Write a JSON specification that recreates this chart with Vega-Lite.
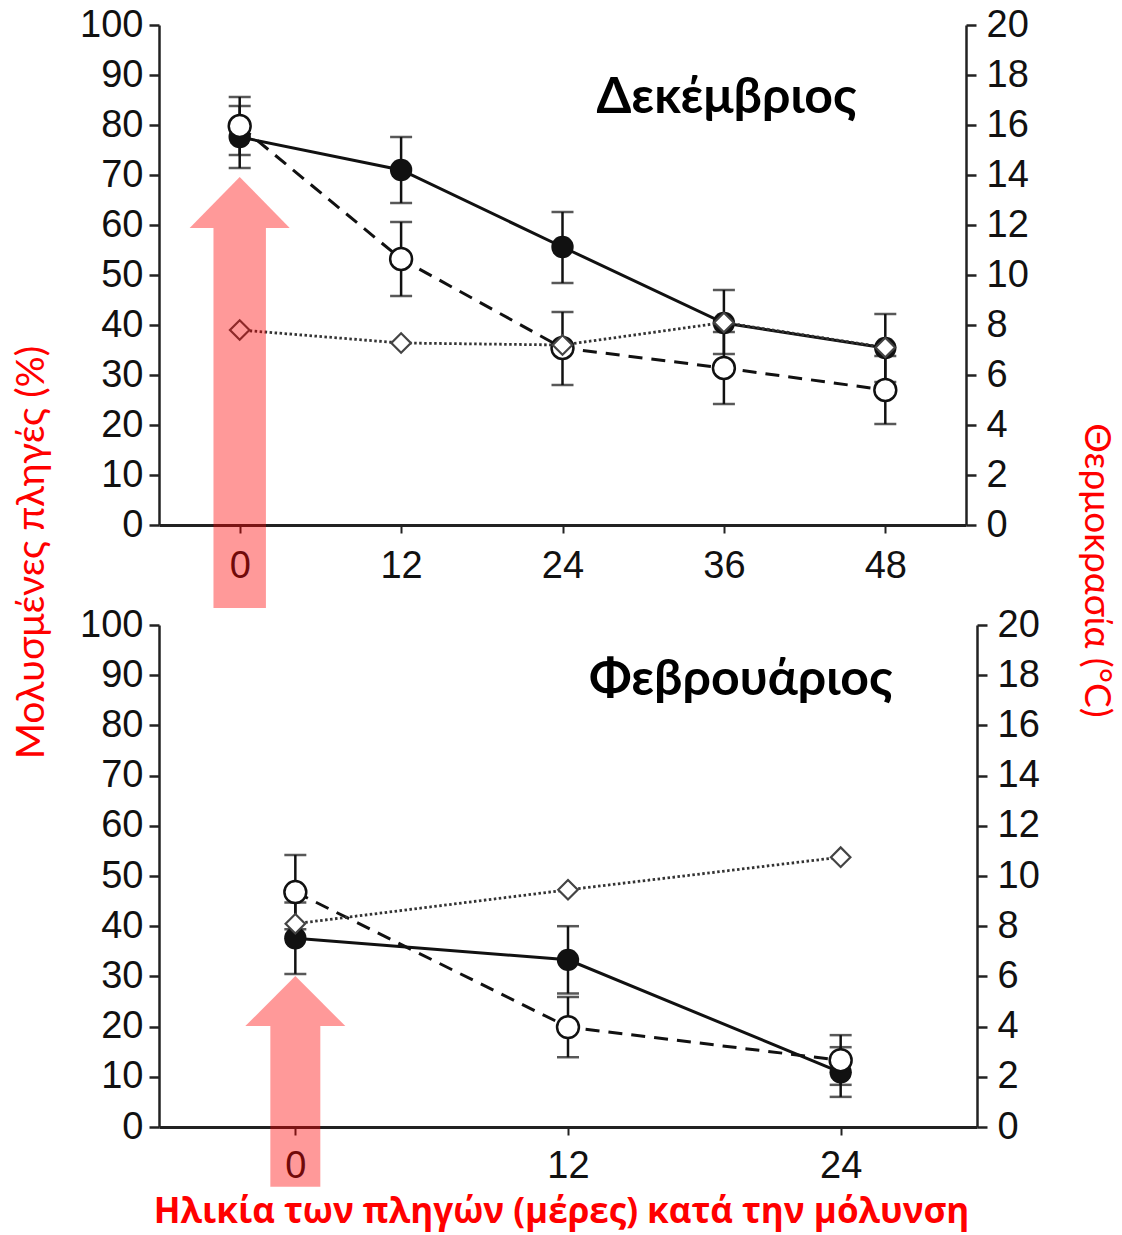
{
  "$schema": "https://vega.github.io/schema/vega-lite/v6.json",
  "background": "white",
  "padding": {"left": 12, "top": 6, "right": 8, "bottom": 10},
  "bounds": "flush",
  "spacing": 100,
  "config": {
    "view": {"stroke": null},
    "axis": {"grid": false, "labelFont": "Liberation Sans", "labelFontSize": 38, "labelColor": "#111", "domainColor": "#222", "tickColor": "#222", "labelOverlap": false, "labelFlush": false}
  },
  "datasets": {
    "dec": [
      {"day": 0, "series": "filled", "mean": 77.6, "lo": 71.4, "hi": 83.8},
      {"day": 12, "series": "filled", "mean": 71, "lo": 64.4, "hi": 77.6},
      {"day": 24, "series": "filled", "mean": 55.6, "lo": 48.4, "hi": 62.6},
      {"day": 36, "series": "filled", "mean": 40.4, "lo": 34.2, "hi": 47},
      {"day": 48, "series": "filled", "mean": 35.4, "lo": 28.6, "hi": 42.2},
      {"day": 0, "series": "open", "mean": 79.8, "lo": 74, "hi": 85.6},
      {"day": 12, "series": "open", "mean": 53.2, "lo": 45.8, "hi": 60.6},
      {"day": 24, "series": "open", "mean": 35.4, "lo": 28, "hi": 42.6},
      {"day": 36, "series": "open", "mean": 31.4, "lo": 24.2, "hi": 38.6},
      {"day": 48, "series": "open", "mean": 27, "lo": 20.2, "hi": 33.8}
    ],
    "decTemp": [
      {"day": 0, "temp": 7.8},
      {"day": 12, "temp": 7.28},
      {"day": 24, "temp": 7.2},
      {"day": 36, "temp": 8.1},
      {"day": 48, "temp": 7.1}
    ],
    "feb": [
      {"day": 0, "series": "filled", "mean": 37.6, "lo": 30.5, "hi": 44.7},
      {"day": 12, "series": "filled", "mean": 33.3, "lo": 26.6, "hi": 40},
      {"day": 24, "series": "filled", "mean": 10.9, "lo": 6, "hi": 15.9},
      {"day": 0, "series": "open", "mean": 46.8, "lo": 39.4, "hi": 54.2},
      {"day": 12, "series": "open", "mean": 19.9, "lo": 13.9, "hi": 25.9},
      {"day": 24, "series": "open", "mean": 13.3, "lo": 8.4, "hi": 18.3}
    ],
    "febTemp": [
      {"day": 0, "temp": 8.1},
      {"day": 12, "temp": 9.45},
      {"day": 24, "temp": 10.75}
    ],
    "decShaft": [{"x1": -1.95, "x2": 1.95, "y1": -16.6, "y2": 59.4}],
    "decHead": [
      {"x": -3.72, "y": 59.4, "base": 59.4},
      {"x": 0, "y": 69.6, "base": 59.4},
      {"x": 3.72, "y": 59.4, "base": 59.4}
    ],
    "febShaft": [{"x1": -1.1, "x2": 1.1, "y1": -11.9, "y2": 20.1}],
    "febHead": [
      {"x": -2.2, "y": 20.1, "base": 20.1},
      {"x": 0, "y": 30.1, "base": 20.1},
      {"x": 2.2, "y": 20.1, "base": 20.1}
    ],
    "decLabel": [{"day": 36.2, "v": 85.4, "label": "Δεκέμβριος"}],
    "febLabel": [{"day": 19.6, "v": 89, "label": "Φεβρουάριος"}]
  },
  "vconcat": [
    {
      "width": 807,
      "height": 500,
      "resolve": {"scale": {"y": "independent"}},
      "layer": [
        {
          "data": {"name": "dec"},
          "layer": [
            {
              "mark": {"type": "rule", "color": "#111", "strokeWidth": 2.5},
              "encoding": {
                "x": {"field": "day", "type": "quantitative", "scale": {"domain": [-6, 54], "nice": false, "zero": false},
                  "axis": {"values": [0, 12, 24, 36, 48], "tickSize": 8, "tickWidth": 2, "domainWidth": 3, "labelBaseline": "alphabetic", "labelPadding": 44, "title": null}},
                "y": {"field": "lo", "type": "quantitative", "scale": {"domain": [0, 100], "nice": false},
                  "axis": {"orient": "left", "values": [0, 10, 20, 30, 40, 50, 60, 70, 80, 90, 100], "tickSize": 10, "tickWidth": 2.5, "domainWidth": 2.5, "labelPadding": 6,
                    "title": "Μολυσμένες πληγές (%)", "titleFont": "Lato, Open Sans", "titleFontSize": 39, "titleFontWeight": "normal", "titleColor": "#ff0000",
                    "titleAngle": -90, "titleX": -128, "titleY": 527, "titleAlign": "center", "titleBaseline": "middle"}},
                "y2": {"field": "hi"}
              }
            },
            {
              "mark": {"type": "tick", "orient": "horizontal", "size": 22, "thickness": 2.5, "color": "#111"},
              "encoding": {"x": {"field": "day", "type": "quantitative"}, "y": {"field": "lo", "type": "quantitative"}}
            },
            {
              "mark": {"type": "tick", "orient": "horizontal", "size": 22, "thickness": 2.5, "color": "#111"},
              "encoding": {"x": {"field": "day", "type": "quantitative"}, "y": {"field": "hi", "type": "quantitative"}}
            },
            {
              "transform": [{"filter": "datum.series === 'filled'"}],
              "mark": {"type": "line", "color": "#111", "strokeWidth": 3},
              "encoding": {"x": {"field": "day", "type": "quantitative"}, "y": {"field": "mean", "type": "quantitative"}}
            },
            {
              "transform": [{"filter": "datum.series === 'open'"}],
              "mark": {"type": "line", "color": "#111", "strokeWidth": 3, "strokeDash": [14, 9]},
              "encoding": {"x": {"field": "day", "type": "quantitative"}, "y": {"field": "mean", "type": "quantitative"}}
            },
            {
              "transform": [{"filter": "datum.series === 'filled'"}],
              "mark": {"type": "point", "shape": "circle", "filled": true, "color": "#111", "size": 500, "opacity": 1},
              "encoding": {"x": {"field": "day", "type": "quantitative"}, "y": {"field": "mean", "type": "quantitative"}}
            },
            {
              "transform": [{"filter": "datum.series === 'open'"}],
              "mark": {"type": "point", "shape": "circle", "filled": true, "fill": "white", "stroke": "#111", "strokeWidth": 2.5, "size": 480, "opacity": 1},
              "encoding": {"x": {"field": "day", "type": "quantitative"}, "y": {"field": "mean", "type": "quantitative"}}
            }
          ]
        },
        {
          "data": {"name": "decTemp"},
          "layer": [
            {
              "mark": {"type": "line", "color": "#333", "strokeWidth": 2.8, "strokeDash": [2.5, 2.5]},
              "encoding": {
                "x": {"field": "day", "type": "quantitative"},
                "y": {"field": "temp", "type": "quantitative", "scale": {"domain": [0, 20], "nice": false},
                  "axis": {"orient": "right", "values": [0, 2, 4, 6, 8, 10, 12, 14, 16, 18, 20], "tickSize": 10, "tickWidth": 2.5, "domainWidth": 2.5, "labelPadding": 10,
                    "title": "Θερμοκρασία (°C)", "titleFont": "Lato, Open Sans", "titleFontSize": 37, "titleFontWeight": "normal", "titleColor": "#ff0000",
                    "titleAngle": 90, "titleX": 129, "titleY": 545, "titleAlign": "center", "titleBaseline": "middle"}}
              }
            },
            {
              "mark": {"type": "point", "shape": "diamond", "filled": true, "fill": "white", "stroke": "#444", "strokeWidth": 2.2, "size": 380, "opacity": 1},
              "encoding": {"x": {"field": "day", "type": "quantitative"}, "y": {"field": "temp", "type": "quantitative"}}
            }
          ]
        },
        {
          "layer": [
            {
              "data": {"name": "decShaft"},
              "mark": {"type": "rect", "color": "#ff0000", "opacity": 0.4},
              "encoding": {
                "x": {"field": "x1", "type": "quantitative"},
                "x2": {"field": "x2"},
                "y": {"field": "y1", "type": "quantitative", "scale": {"domain": [0, 100], "nice": false}, "axis": null},
                "y2": {"field": "y2"}
              }
            },
            {
              "data": {"name": "decHead"},
              "mark": {"type": "area", "color": "#ff0000", "opacity": 0.4},
              "encoding": {
                "x": {"field": "x", "type": "quantitative"},
                "y": {"field": "y", "type": "quantitative", "axis": null},
                "y2": {"field": "base"}
              }
            },
            {
              "data": {"name": "decLabel"},
              "mark": {"type": "text", "font": "Lato, Open Sans", "fontWeight": "bold", "fontSize": 50, "color": "black", "align": "center", "baseline": "middle"},
              "encoding": {
                "x": {"field": "day", "type": "quantitative"},
                "y": {"field": "v", "type": "quantitative", "axis": null},
                "text": {"field": "label"}
              }
            }
          ]
        }
      ]
    },
    {
      "width": 818,
      "height": 502,
      "resolve": {"scale": {"y": "independent"}},
      "layer": [
        {
          "data": {"name": "feb"},
          "layer": [
            {
              "mark": {"type": "rule", "color": "#111", "strokeWidth": 2.5},
              "encoding": {
                "x": {"field": "day", "type": "quantitative", "scale": {"domain": [-6, 30], "nice": false, "zero": false},
                  "axis": {"values": [0, 12, 24], "tickSize": 8, "tickWidth": 2, "domainWidth": 3, "labelBaseline": "alphabetic", "labelPadding": 42,
                    "title": "Ηλικία των πληγών (μέρες) κατά την μόλυνση", "titleFont": "Open Sans", "titleFontSize": 35, "titleFontWeight": "bold", "titleColor": "#ff0000",
                    "titleX": 402, "titleY": 84, "titleAlign": "center", "titleBaseline": "middle", "titleAngle": 0}},
                "y": {"field": "lo", "type": "quantitative", "scale": {"domain": [0, 100], "nice": false},
                  "axis": {"orient": "left", "values": [0, 10, 20, 30, 40, 50, 60, 70, 80, 90, 100], "tickSize": 10, "tickWidth": 2.5, "domainWidth": 2.5, "labelPadding": 6, "title": null}},
                "y2": {"field": "hi"}
              }
            },
            {
              "mark": {"type": "tick", "orient": "horizontal", "size": 22, "thickness": 2.5, "color": "#111"},
              "encoding": {"x": {"field": "day", "type": "quantitative"}, "y": {"field": "lo", "type": "quantitative"}}
            },
            {
              "mark": {"type": "tick", "orient": "horizontal", "size": 22, "thickness": 2.5, "color": "#111"},
              "encoding": {"x": {"field": "day", "type": "quantitative"}, "y": {"field": "hi", "type": "quantitative"}}
            },
            {
              "transform": [{"filter": "datum.series === 'filled'"}],
              "mark": {"type": "line", "color": "#111", "strokeWidth": 3},
              "encoding": {"x": {"field": "day", "type": "quantitative"}, "y": {"field": "mean", "type": "quantitative"}}
            },
            {
              "transform": [{"filter": "datum.series === 'open'"}],
              "mark": {"type": "line", "color": "#111", "strokeWidth": 3, "strokeDash": [14, 9]},
              "encoding": {"x": {"field": "day", "type": "quantitative"}, "y": {"field": "mean", "type": "quantitative"}}
            },
            {
              "transform": [{"filter": "datum.series === 'filled'"}],
              "mark": {"type": "point", "shape": "circle", "filled": true, "color": "#111", "size": 500, "opacity": 1},
              "encoding": {"x": {"field": "day", "type": "quantitative"}, "y": {"field": "mean", "type": "quantitative"}}
            },
            {
              "transform": [{"filter": "datum.series === 'open'"}],
              "mark": {"type": "point", "shape": "circle", "filled": true, "fill": "white", "stroke": "#111", "strokeWidth": 2.5, "size": 480, "opacity": 1},
              "encoding": {"x": {"field": "day", "type": "quantitative"}, "y": {"field": "mean", "type": "quantitative"}}
            }
          ]
        },
        {
          "data": {"name": "febTemp"},
          "layer": [
            {
              "mark": {"type": "line", "color": "#333", "strokeWidth": 2.8, "strokeDash": [2.5, 2.5]},
              "encoding": {
                "x": {"field": "day", "type": "quantitative"},
                "y": {"field": "temp", "type": "quantitative", "scale": {"domain": [0, 20], "nice": false},
                  "axis": {"orient": "right", "values": [0, 2, 4, 6, 8, 10, 12, 14, 16, 18, 20], "tickSize": 10, "tickWidth": 2.5, "domainWidth": 2.5, "labelPadding": 10, "title": null}}
              }
            },
            {
              "mark": {"type": "point", "shape": "diamond", "filled": true, "fill": "white", "stroke": "#444", "strokeWidth": 2.2, "size": 380, "opacity": 1},
              "encoding": {"x": {"field": "day", "type": "quantitative"}, "y": {"field": "temp", "type": "quantitative"}}
            }
          ]
        },
        {
          "layer": [
            {
              "data": {"name": "febShaft"},
              "mark": {"type": "rect", "color": "#ff0000", "opacity": 0.4},
              "encoding": {
                "x": {"field": "x1", "type": "quantitative"},
                "x2": {"field": "x2"},
                "y": {"field": "y1", "type": "quantitative", "scale": {"domain": [0, 100], "nice": false}, "axis": null},
                "y2": {"field": "y2"}
              }
            },
            {
              "data": {"name": "febHead"},
              "mark": {"type": "area", "color": "#ff0000", "opacity": 0.4},
              "encoding": {
                "x": {"field": "x", "type": "quantitative"},
                "y": {"field": "y", "type": "quantitative", "axis": null},
                "y2": {"field": "base"}
              }
            },
            {
              "data": {"name": "febLabel"},
              "mark": {"type": "text", "font": "Lato, Open Sans", "fontWeight": "bold", "fontSize": 50, "color": "black", "align": "center", "baseline": "middle"},
              "encoding": {
                "x": {"field": "day", "type": "quantitative"},
                "y": {"field": "v", "type": "quantitative", "axis": null},
                "text": {"field": "label"}
              }
            }
          ]
        }
      ]
    }
  ]
}
